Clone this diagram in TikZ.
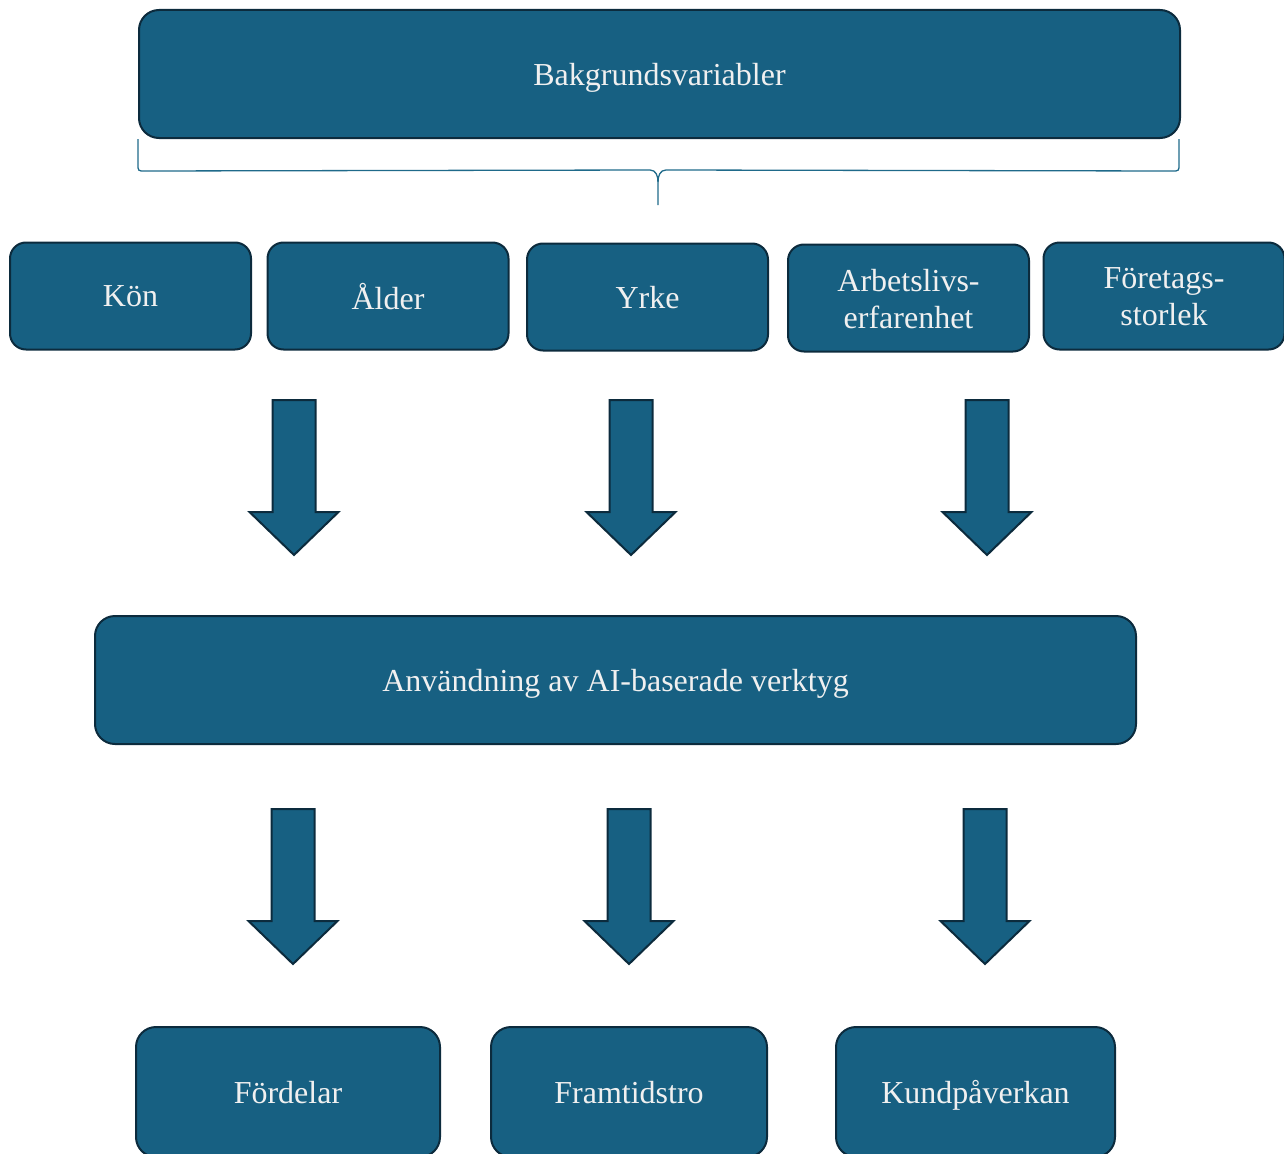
\documentclass[tikz,border=0pt]{standalone}
\usepackage{fontspec}
\setmainfont{Liberation Serif}
\usetikzlibrary{positioning}

\definecolor{boxblue}{HTML}{176082}
\definecolor{boxline}{HTML}{0C2B3D}
\definecolor{bracecol}{HTML}{1F6A8A}

\begin{document}
\begin{tikzpicture}[x=1pt, y=-1pt]
    % Define styles
    \tikzset{
        block/.style={draw=boxline, line width=2pt, fill=boxblue, rounded corners=20pt,
            text=white!94!black, align=center, inner sep=0pt, text depth=0pt,
            font=\fontsize{32}{37}\selectfont},
        wide/.style={block, minimum width=1041pt, minimum height=128pt},
        small/.style={block, minimum width=241pt, minimum height=107pt, rounded corners=16pt},
        result/.style={block, minimum height=130pt},
        bigarrow/.style={draw=boxline, line width=2pt, fill=boxblue, line join=miter},
        brace/.style={draw=bracecol, line width=1.3pt}
    }
    \useasboundingbox (0,0) rectangle (1284,1153);

    % Background variables
    \node[wide] (bg) at (659.5,74) {Bakgrundsvariabler};

    % Brace under the top box
    \draw[brace] (bg.south west) -- ++(0,25) .. controls ++(0,7) .. ++(7,7)
        -- (650,170) .. controls (656,170) and (658,176) .. (658,182) -- (658,205);
    \draw[brace] (bg.south east) ++(-2,0) -- ++(0,25) .. controls ++(0,7) .. ++(-7,7)
        -- (666,170) .. controls (660,170) and (658,176) .. (658,182);

    % Variable boxes
    \node[small] (kon) at (130.5,296) {Kön};
    \node[small] (alder) at (388,296) {Ålder};
    \node[small] (yrke) at (647.5,297) {Yrke};
    \node[small] (arbete) at (908.5,298) {\raisebox{-2pt}{Arbetslivs-}\\\raisebox{-2pt}{erfarenhet}};
    \node[small] (storlek) at (1164,296) {\raisebox{-2pt}{Företags-}\\\raisebox{-2pt}{storlek}};

    % Block arrows
    \foreach \x/\y in {294/400, 631/400, 987/400, 293/809, 629/809, 985/809} {
        \draw[bigarrow] (\x-21.5,\y) -- (\x+21.5,\y) -- (\x+21.5,\y+112)
            -- (\x+44.5,\y+112) -- (\x,\y+155) -- (\x-44.5,\y+112)
            -- (\x-21.5,\y+112) -- cycle;
    }

    % Usage box
    \node[wide] (use) at (615.5,680) {Användning av AI-baserade verktyg};

    % Outcomes
    \node[result, minimum width=304pt] (fordelar) at (288,1092) {Fördelar};
    \node[result, minimum width=276pt] (framtid) at (629,1092) {Framtidstro};
    \node[result, minimum width=279pt] (kund) at (975.5,1092) {Kundpåverkan};
\end{tikzpicture}
\end{document}
